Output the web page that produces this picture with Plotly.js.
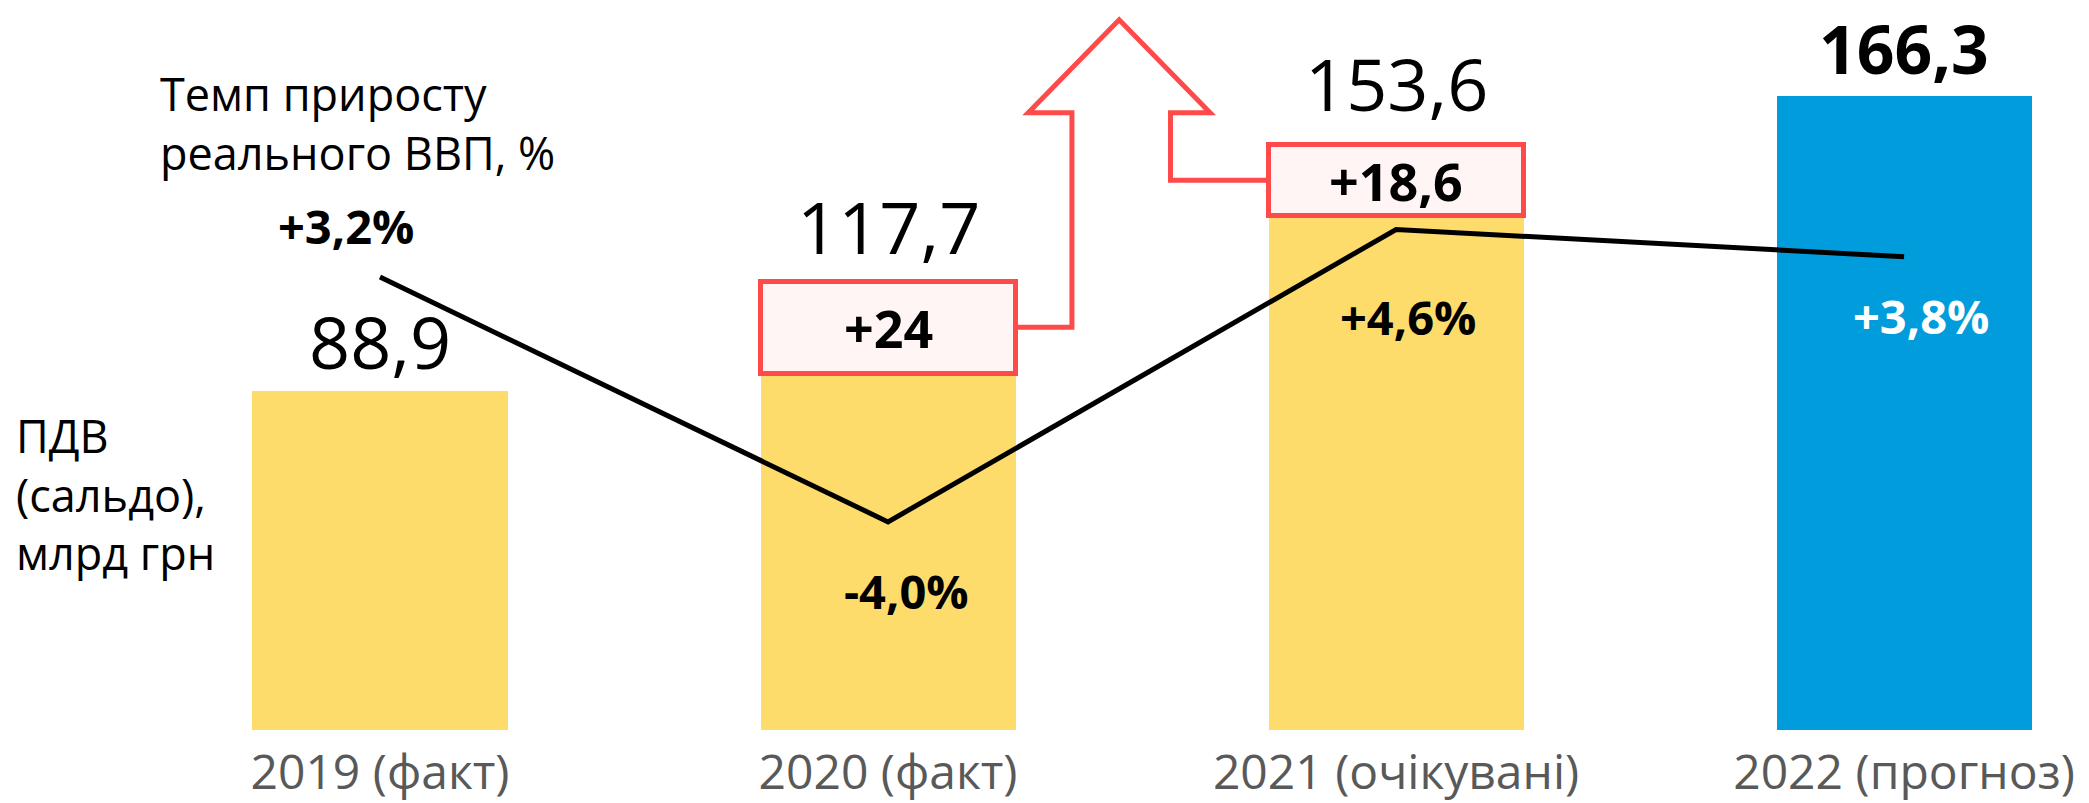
<!DOCTYPE html>
<html>
<head>
<meta charset="utf-8">
<script src="https://cdn.plot.ly/plotly-3.0.1.min.js"></script>
<style>html,body{margin:0;padding:0;background:#fff;}#chart{width:2089px;height:803px;}</style>
</head>
<body>
<div id="chart"></div>
<script>
// ---- data ----
const categories = ["2019 (факт)", "2020 (факт)", "2021 (очікувані)", "2022 (прогноз)"];
const vatTotals = [88.9, 117.7, 153.6, 166.3];          // ПДВ (сальдо), млрд грн
const vatIncrease = [null, 24, 18.6, null];              // приріст, млрд грн
const gdpGrowth = [3.2, -4.0, 4.6, 3.8];                 // темп приросту реального ВВП, %
const totalLabels = ["88,9", "117,7", "153,6", "166,3"];
const increaseLabels = ["", "+24", "+18,6", ""];
const growthLabels = ["+3,2%", "-4,0%", "+4,6%", "+3,8%"];
const leftTitle = "ПДВ<br>(сальдо),<br>млрд грн";
const topTitle = "Темп приросту<br>реального ВВП, %";

// ---- styles ----
const FONT = "Open Sans, sans-serif";
const YELLOW = "#FDDC6B", BLUE = "#009CDB", RED = "#FF4A4A", PINK = "#FFF5F4";
const BW = 0.502;
const PLOT_H = 730;
const idx = categories.map((_, i) => i);
const baseVals = vatTotals.map((v, i) => v - (vatIncrease[i] || 0));

const traces = [
  {type: "bar", x: idx, y: baseVals, width: BW,
   marker: {color: idx.map(i => i === 3 ? BLUE : YELLOW), line: {width: 0}},
   hoverinfo: "skip", showlegend: false},
  {type: "bar", x: idx, y: vatIncrease, width: BW,
   marker: {color: PINK, line: {color: RED, width: 5}},
   hoverinfo: "skip", showlegend: false},
  {type: "scatter", mode: "lines", x: idx, y: gdpGrowth, yaxis: "y2",
   line: {color: "#000", width: 5}, hoverinfo: "skip", showlegend: false}
];

const annotations = [];
// totals above bars
const totalShift = [50, 56, 62, 48];
const totalSize = [72, 72, 72, 66];
idx.forEach(i => annotations.push({
  x: i, y: vatTotals[i], xref: "x", yref: "y", text: totalLabels[i], showarrow: false,
  yanchor: "middle", yshift: totalShift[i],
  font: {family: FONT, size: totalSize[i], color: "#000", weight: i === 3 ? 700 : 400}
}));
// increase labels inside red boxes
idx.forEach(i => { if (vatIncrease[i] != null) annotations.push({
  x: i, y: baseVals[i] + vatIncrease[i] / 2, xref: "x", yref: "y", text: increaseLabels[i],
  showarrow: false, yanchor: "middle",
  font: {family: FONT, size: 52, color: "#000", weight: 700}
}); });
// growth labels
const gShift = [[-34, 51], [18, -69], [12, -87], [17, -59]];
idx.forEach(i => annotations.push({
  x: i, y: gdpGrowth[i], xref: "x", yref: "y2", text: growthLabels[i], showarrow: false,
  xshift: gShift[i][0], yshift: gShift[i][1], yanchor: "middle",
  font: {family: FONT, size: 47, color: i === 3 ? "#fff" : "#000", weight: 700}
}));
// side titles
annotations.push({
  xref: "paper", yref: "paper", x: 14 / 2089, y: (PLOT_H - 494) / PLOT_H,
  xanchor: "left", yanchor: "middle", align: "left", text: leftTitle, showarrow: false,
  font: {family: FONT, size: 45, color: "#000"}
});
annotations.push({
  xref: "paper", yref: "paper", x: 158 / 2089, y: (PLOT_H - 123) / PLOT_H,
  xanchor: "left", yanchor: "middle", align: "left", text: topTitle, showarrow: false,
  font: {family: FONT, size: 45, color: "#000"}
});

// outlined arrow linking the two increase boxes
const y1mid = baseVals[1] + vatIncrease[1] / 2;
const y2mid = baseVals[2] + vatIncrease[2] / 2;
const sL = 1.362, sR = 1.556, wL = 1.276, wR = 1.634, apx = 1.455, wingY = 162, apexY = 186.4;
const arrowPath = `M ${1 + BW / 2},${y1mid} L ${sL},${y1mid} L ${sL},${wingY} L ${wL},${wingY} ` +
  `L ${apx},${apexY} L ${wR},${wingY} L ${sR},${wingY} L ${sR},${y2mid} L ${2 - BW / 2},${y2mid}`;

const layout = {
  width: 2089, height: 803,
  margin: {l: 0, r: 0, t: 0, b: 803 - PLOT_H, pad: 0},
  paper_bgcolor: "#fff", plot_bgcolor: "#fff",
  barmode: "stack",
  showlegend: false,
  xaxis: {range: [-0.748, 3.364], tickvals: idx, ticktext: categories, showgrid: false,
          zeroline: false, showline: false, ticks: "", ticklabelstandoff: 10,
          tickfont: {family: FONT, size: 48, color: "#595959"}, fixedrange: true},
  yaxis: {range: [0, 191.6], visible: false, fixedrange: true},
  yaxis2: {range: [-10.12, 11.35], overlaying: "y", visible: false, fixedrange: true},
  shapes: [{type: "path", xref: "x", yref: "y", path: arrowPath,
            line: {color: RED, width: 5}, fillcolor: "rgba(0,0,0,0)", layer: "above"}],
  annotations: annotations
};

Plotly.newPlot("chart", traces, layout, {staticPlot: true, displayModeBar: false});
</script>
</body>
</html>
